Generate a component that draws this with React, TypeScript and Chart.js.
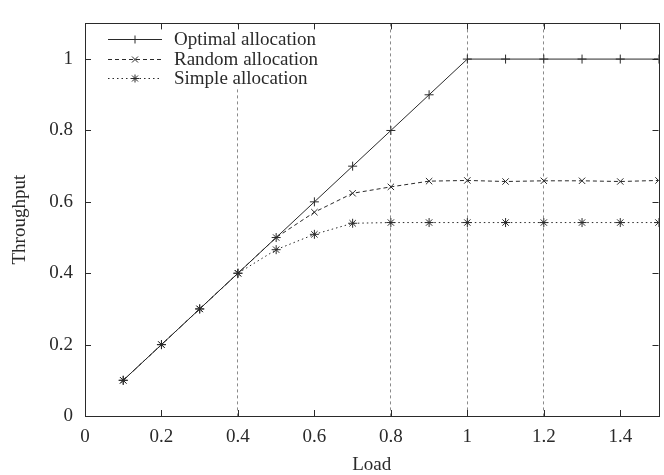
import React, { useEffect, useRef } from "react";
import { Chart, registerables } from "chart.js";

Chart.register(...registerables);

const loads = [0.1, 0.2, 0.3, 0.4, 0.5, 0.6, 0.7, 0.8, 0.9, 1.0, 1.1, 1.2, 1.3, 1.4, 1.5];
const optimalThroughput = [0.1, 0.2, 0.3, 0.4, 0.5, 0.6, 0.7, 0.8, 0.9, 1.0, 1.0, 1.0, 1.0, 1.0, 1.0];
const randomThroughput = [0.1, 0.2, 0.3, 0.4, 0.5, 0.571, 0.624, 0.642, 0.658, 0.66, 0.657, 0.659, 0.659, 0.657, 0.66];
const simpleThroughput = [0.1, 0.2, 0.3, 0.4, 0.466, 0.509, 0.54, 0.542, 0.542, 0.542, 0.542, 0.542, 0.542, 0.542, 0.542];

const seriesNames = ["Optimal allocation", "Random allocation", "Simple allocation"];
const xTickValues = [0, 0.2, 0.4, 0.6, 0.8, 1.0, 1.2, 1.4];
const xTickLabels = ["0", "0.2", "0.4", "0.6", "0.8", "1", "1.2", "1.4"];
const yTickValues = [0, 0.2, 0.4, 0.6, 0.8, 1.0];
const yTickLabels = ["0", "0.2", "0.4", "0.6", "0.8", "1"];
const xGridValues = [0.4, 0.8, 1.0, 1.2];

const FONT = '"Liberation Serif", "Times New Roman", serif';
const INK = "#2a2a2a";

const styles = [
  { dash: [] as number[], point: "cross", radius: 4.5 },
  { dash: [4, 3], point: "crossRot", radius: 4.5 },
  { dash: [1.5, 3], point: "star", radius: 4.5 },
];

function drawMarker(ctx: CanvasRenderingContext2D, kind: string, x: number, y: number, r: number) {
  ctx.beginPath();
  if (kind === "cross" || kind === "star") {
    ctx.moveTo(x - r, y);
    ctx.lineTo(x + r, y);
    ctx.moveTo(x, y - r);
    ctx.lineTo(x, y + r);
  }
  if (kind === "crossRot" || kind === "star") {
    const d = r * 0.75;
    ctx.moveTo(x - d, y - d);
    ctx.lineTo(x + d, y + d);
    ctx.moveTo(x - d, y + d);
    ctx.lineTo(x + d, y - d);
  }
  ctx.stroke();
}

const framePlugin = {
  id: "gnuplotFrame",
  beforeDatasetsDraw(chart: any) {
    const { ctx, chartArea } = chart;
    ctx.save();
    ctx.fillStyle = "#ffffff";
    ctx.fillRect(chartArea.left + 12, chartArea.top + 1, 245, 63);
    ctx.restore();
  },
  afterDatasetsDraw(chart: any) {
    const { ctx, chartArea, scales } = chart;
    const { left, right, top, bottom } = chartArea;
    ctx.save();
    ctx.strokeStyle = INK;
    ctx.lineWidth = 1;
    ctx.setLineDash([]);
    ctx.strokeRect(Math.round(left) + 0.5, Math.round(top) + 0.5, Math.round(right - left), Math.round(bottom - top));
    const tl = 6;
    ctx.beginPath();
    xTickValues.forEach((v) => {
      const px = Math.round(scales.x.getPixelForValue(v)) + 0.5;
      ctx.moveTo(px, bottom);
      ctx.lineTo(px, bottom - tl);
      ctx.moveTo(px, top);
      ctx.lineTo(px, top + tl);
    });
    yTickValues.forEach((v) => {
      const py = Math.round(scales.y.getPixelForValue(v)) + 0.5;
      ctx.moveTo(left, py);
      ctx.lineTo(left + tl, py);
      ctx.moveTo(right, py);
      ctx.lineTo(right - tl, py);
    });
    ctx.stroke();
    ctx.restore();
  },
  afterDraw(chart: any) {
    const { ctx, chartArea } = chart;
    const x0 = chartArea.left + 23;
    const x1 = chartArea.left + 77;
    const xm = (x0 + x1) / 2;
    const tx = chartArea.left + 89;
    ctx.save();
    ctx.font = `19px ${FONT}`;
    ctx.textBaseline = "middle";
    ctx.textAlign = "left";
    seriesNames.forEach((name, i) => {
      const y = chartArea.top + 16 + i * 19.5;
      const s = styles[i];
      ctx.strokeStyle = INK;
      ctx.lineWidth = 1;
      ctx.setLineDash(s.dash);
      ctx.beginPath();
      ctx.moveTo(x0, Math.round(y) + 0.5);
      ctx.lineTo(x1, Math.round(y) + 0.5);
      ctx.stroke();
      ctx.setLineDash([]);
      drawMarker(ctx, s.point, xm, Math.round(y) + 0.5, 4);
      ctx.fillStyle = INK;
      ctx.fillText(name, tx, y + 1);
    });
    ctx.restore();
  },
};

export default function App() {
  const ref = useRef<HTMLCanvasElement | null>(null);

  useEffect(() => {
    if (!ref.current) return;
    const seriesValues = [optimalThroughput, randomThroughput, simpleThroughput];
    const chart = new Chart(ref.current, {
      type: "line",
      data: {
        datasets: seriesValues.map((vals, i) => ({
          label: seriesNames[i],
          data: loads.map((x, j) => ({ x, y: vals[j] })),
          borderColor: INK,
          backgroundColor: INK,
          borderWidth: 1,
          borderDash: styles[i].dash,
          pointStyle: styles[i].point as any,
          pointRadius: styles[i].radius,
          pointBorderWidth: 1,
          pointBorderColor: INK,
          tension: 0,
          fill: false,
        })),
      },
      options: {
        responsive: false,
        animation: false,
        devicePixelRatio: 1,
        layout: { padding: { left: 0, right: 2, top: 10, bottom: 0 } },
        plugins: { legend: { display: false }, tooltip: { enabled: false } },
        scales: {
          x: {
            type: "linear",
            min: 0,
            max: 1.5,
            afterBuildTicks: (s: any) => {
              s.ticks = xTickValues.map((v) => ({ value: v }));
            },
            afterFit: (s: any) => {
              s.height = 59;
            },
            ticks: {
              color: INK,
              font: { family: FONT, size: 19 },
              padding: 10,
              maxRotation: 0,
              autoSkip: false,
              callback: (_v: any, i: number) => xTickLabels[i],
            },
            grid: {
              drawTicks: false,
              lineWidth: 1,
              color: (c: any) =>
                c.tick && xGridValues.some((g) => Math.abs(g - c.tick.value) < 1e-6) ? "#8a8a8a" : "rgba(0,0,0,0)",
            },
            border: { display: false, dash: [3, 3] },
            title: {
              display: true,
              text: "Load",
              color: INK,
              font: { family: FONT, size: 19, lineHeight: 1 },
              padding: { top: 0, bottom: 0 },
            },
          },
          y: {
            type: "linear",
            min: 0,
            max: 1.1,
            afterBuildTicks: (s: any) => {
              s.ticks = yTickValues.map((v) => ({ value: v }));
            },
            afterFit: (s: any) => {
              s.width = 85;
            },
            ticks: {
              color: INK,
              font: { family: FONT, size: 19 },
              padding: 12,
              autoSkip: false,
              callback: (_v: any, i: number) => yTickLabels[i],
            },
            grid: { display: false, drawTicks: false },
            border: { display: false },
            title: {
              display: true,
              text: "Throughput",
              color: INK,
              font: { family: FONT, size: 19, lineHeight: 1 },
              padding: { top: 11, bottom: 0 },
            },
          },
        },
      },
      plugins: [framePlugin],
    });
    return () => chart.destroy();
  }, []);

  return (
    <div style={{ position: "absolute", left: 0, top: 0, width: 664, height: 475, background: "#fff" }}>
      <canvas ref={ref} width={664} height={475} />
    </div>
  );
}
